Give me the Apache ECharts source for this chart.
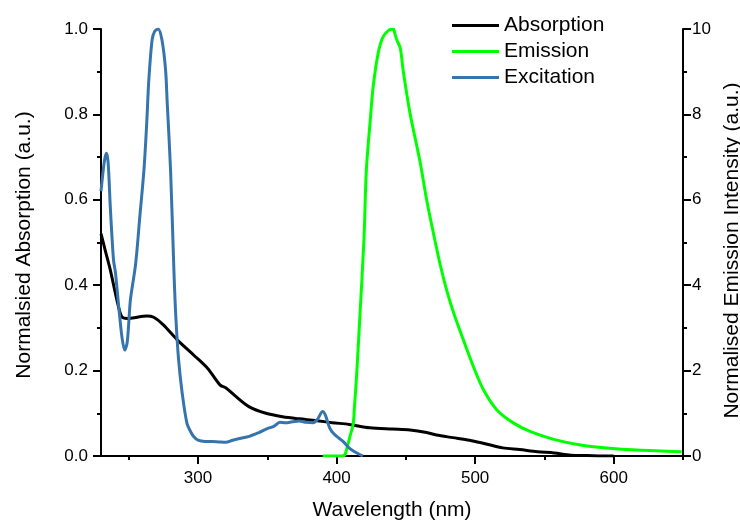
<!DOCTYPE html>
<html>
<head>
<meta charset="utf-8">
<script src="https://cdn.jsdelivr.net/npm/echarts@6/dist/echarts.min.js"></script>
<style>
  html, body { margin: 0; padding: 0; background: #fff; }
  #chart { width: 740px; height: 522px; }
</style>
</head>
<body>
<div id="chart"></div>
<script>
// Absorption spectrum (left axis, normalised)
const absWavelength = [230, 233, 236.7, 241.5, 245, 249, 254, 263, 268, 275, 285, 297, 307, 316, 320, 326, 337, 349, 361, 373, 385, 397, 409, 424, 440, 453, 465, 472, 484, 496, 508, 520, 532, 545, 557, 569, 581, 593, 600];
const absValue = [0.521, 0.482, 0.436, 0.365, 0.326, 0.322, 0.324, 0.328, 0.325, 0.307, 0.272, 0.236, 0.205, 0.166, 0.160, 0.143, 0.115, 0.100, 0.092, 0.087, 0.083, 0.078, 0.074, 0.066, 0.063, 0.061, 0.055, 0.049, 0.043, 0.037, 0.028, 0.019, 0.015, 0.010, 0.007, 0.002, 0.001, 0.0, 0.0];

// Emission spectrum (right axis, 0-10)
const emWavelength = [390, 404, 406, 408, 410, 412, 413, 414.3, 416.7, 419.8, 421.5, 424.4, 426.4, 430, 433.6, 438, 441, 442, 443.5, 446, 448, 453, 460, 465, 470, 475, 480, 485, 491.5, 498.8, 506, 515.7, 527.8, 540, 556.7, 576, 595, 617, 649];
const emValue = [0, 0, 0.03, 0.25, 0.5, 0.75, 1.2, 1.8, 3.2, 5.1, 6.7, 7.9, 8.65, 9.43, 9.82, 9.98, 10.0, 9.9, 9.74, 9.55, 9.04, 8.03, 6.93, 6.0, 5.2, 4.45, 3.82, 3.3, 2.72, 2.09, 1.55, 1.08, 0.77, 0.57, 0.39, 0.26, 0.19, 0.14, 0.10];

// Excitation spectrum (left axis, normalised)
const excWavelength = [230, 232, 233, 234, 235.2, 236.7, 239, 240.4, 242.8, 245.1, 247.1, 248.8, 250, 251.2, 255, 258, 261, 263, 264.5, 266.9, 268.8, 271.2, 274, 276.6, 277.8, 280.2, 282.6, 284, 286, 288.6, 292, 295, 297, 300, 305, 310, 315, 320, 325, 330, 337, 344, 350, 355, 359, 363, 368, 373, 378, 383, 386, 390, 392, 395, 398, 402, 405, 409, 413, 419];
const excValue = [0.62, 0.68, 0.70, 0.709, 0.685, 0.584, 0.46, 0.43, 0.35, 0.279, 0.248, 0.264, 0.31, 0.365, 0.45, 0.56, 0.67, 0.78, 0.88, 0.975, 0.995, 1.0, 0.974, 0.904, 0.826, 0.67, 0.436, 0.326, 0.225, 0.147, 0.077, 0.055, 0.045, 0.037, 0.034, 0.034, 0.033, 0.032, 0.037, 0.041, 0.046, 0.055, 0.064, 0.070, 0.079, 0.078, 0.080, 0.082, 0.079, 0.078, 0.085, 0.104, 0.095, 0.066, 0.052, 0.041, 0.033, 0.019, 0.010, 0.0];

// Axis ticks
const xMajorTicks = [300, 400, 500, 600];
const xMinorTicks = [250, 350, 450, 550, 650];

const pairs = (xs, ys) => xs.map((x, i) => [x, ys[i]]);

const FONT = '"Liberation Sans", Arial, sans-serif';
const axisLineStyle = { color: '#000', width: 2 };

const chart = echarts.init(document.getElementById('chart'), null, { renderer: 'canvas' });

chart.setOption({
  animation: false,
  backgroundColor: '#fff',
  textStyle: { fontFamily: FONT, color: '#000' },
  grid: { left: 101, right: 57, top: 29, bottom: 66, containLabel: false, outerBoundsMode: 'none' },
  legend: {
    orient: 'vertical',
    left: 452,
    top: 15,
    padding: 0,
    itemWidth: 47,
    itemHeight: 3,
    itemGap: 5,
    icon: 'rect',
    textStyle: { fontFamily: FONT, fontSize: 21, color: '#000' },
    data: ['Absorption', 'Emission', 'Excitation']
  },
  xAxis: [
    {
      type: 'value',
      min: 230,
      max: 650,
      position: 'bottom',
      name: 'Wavelength (nm)',
      nameLocation: 'middle',
      nameGap: 44,
      nameTextStyle: { fontFamily: FONT, fontSize: 21, color: '#000' },
      axisLine: { show: true, onZero: false, lineStyle: axisLineStyle },
      axisTick: { show: true, length: 8, customValues: xMajorTicks, lineStyle: axisLineStyle },
      axisLabel: { show: true, margin: 14, fontSize: 17, fontFamily: FONT, color: '#000', customValues: xMajorTicks },
      splitLine: { show: false }
    },
    {
      type: 'value',
      min: 230,
      max: 650,
      position: 'bottom',
      axisLine: { show: false, onZero: false },
      axisTick: { show: true, length: 4, customValues: xMinorTicks, lineStyle: axisLineStyle },
      axisLabel: { show: false },
      splitLine: { show: false }
    }
  ],
  yAxis: [
    {
      type: 'value',
      min: 0,
      max: 1,
      interval: 0.2,
      position: 'left',
      name: 'Normalsied Absorption (a.u.)',
      nameLocation: 'middle',
      nameRotate: 90,
      nameGap: 66,
      nameTextStyle: { fontFamily: FONT, fontSize: 21, color: '#000', padding: [0, 5, 0, 0] },
      axisLine: { show: true, onZero: false, lineStyle: axisLineStyle },
      axisTick: { show: true, length: 8, lineStyle: axisLineStyle },
      minorTick: { show: true, splitNumber: 2, length: 4, lineStyle: axisLineStyle },
      axisLabel: { margin: 13, fontSize: 17, fontFamily: FONT, color: '#000', formatter: v => v.toFixed(1) },
      splitLine: { show: false }
    },
    {
      type: 'value',
      min: 0,
      max: 10,
      interval: 2,
      position: 'right',
      name: 'Normalised Emission Intensity (a.u.)',
      nameLocation: 'middle',
      nameRotate: 90,
      nameGap: 31,
      nameTextStyle: { fontFamily: FONT, fontSize: 21, color: '#000', padding: [0, 16, 0, 0] },
      axisLine: { show: true, onZero: false, lineStyle: axisLineStyle },
      axisTick: { show: true, length: 8, lineStyle: axisLineStyle },
      minorTick: { show: true, splitNumber: 2, length: 4, lineStyle: axisLineStyle },
      axisLabel: { margin: 9, fontSize: 17, fontFamily: FONT, color: '#000' },
      splitLine: { show: false }
    }
  ],
  series: [
    {
      name: 'Absorption',
      type: 'line',
      xAxisIndex: 0,
      yAxisIndex: 0,
      data: pairs(absWavelength, absValue),
      showSymbol: false,
      smooth: 0.3,
      lineStyle: { color: '#000', width: 3 },
      itemStyle: { color: '#000' }
    },
    {
      name: 'Emission',
      type: 'line',
      xAxisIndex: 0,
      yAxisIndex: 1,
      data: pairs(emWavelength, emValue),
      showSymbol: false,
      smooth: 0.3,
      lineStyle: { color: '#00ff00', width: 3 },
      itemStyle: { color: '#00ff00' }
    },
    {
      name: 'Excitation',
      type: 'line',
      xAxisIndex: 0,
      yAxisIndex: 0,
      data: pairs(excWavelength, excValue),
      showSymbol: false,
      smooth: 0.3,
      lineStyle: { color: '#3674ae', width: 3 },
      itemStyle: { color: '#3674ae' }
    }
  ]
});
</script>
</body>
</html>
